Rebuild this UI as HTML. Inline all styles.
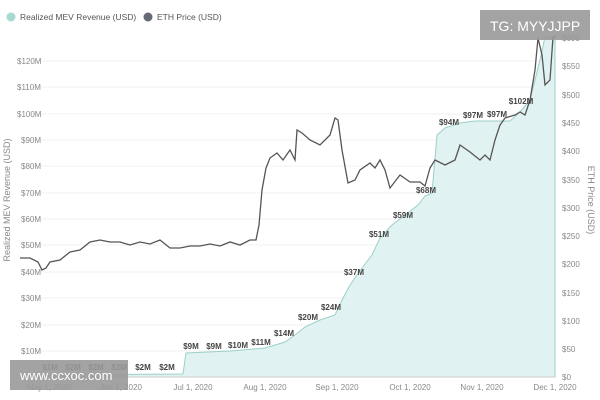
<!DOCTYPE html>
<html><head><meta charset="utf-8"><style>
body{margin:0;background:#fff;}
svg{display:block;font-family:"Liberation Sans",sans-serif;}
</style></head><body>
<svg width="600" height="400" viewBox="0 0 600 400">
<g stroke="#f2f2f2" stroke-width="1">
<line x1="30" x2="555" y1="61" y2="61"/><line x1="30" x2="555" y1="87" y2="87"/><line x1="30" x2="555" y1="114" y2="114"/><line x1="30" x2="555" y1="140" y2="140"/><line x1="30" x2="555" y1="166" y2="166"/><line x1="30" x2="555" y1="193" y2="193"/><line x1="30" x2="555" y1="219" y2="219"/><line x1="30" x2="555" y1="245" y2="245"/><line x1="30" x2="555" y1="272" y2="272"/><line x1="30" x2="555" y1="298" y2="298"/><line x1="30" x2="555" y1="325" y2="325"/><line x1="30" x2="555" y1="351" y2="351"/>
</g>
<path d="M30,377 L30,375 L183,374 L186,353 L230,351 L265,348 L285,342 L295,335 L305,327 L320,320 L335,315 L342,300 L350,285 L362,268 L372,255 L380,238 L392,225 L405,215 L418,205 L425,196 L432,193 L437,135 L445,128 L460,123 L475,121 L510,121 L520,112 L530,100 L540,60 L545,37 L555,37 L555,377 Z" fill="#e0f2f1" stroke="#9ccfc8" stroke-width="1"/>
<line x1="30" x2="555" y1="377" y2="377" stroke="#ccc"/>
<polyline fill="none" stroke="#555" stroke-width="1.3" points="20,258 30,258 38,262 42,270 46,268 50,262 60,260 70,252 80,250 90,242 100,240 110,242 120,242 130,245 140,242 150,244 160,240 170,248 180,248 190,246 200,246 210,244 220,246 230,242 240,245 250,240 256,240 259,225 262,190 266,168 270,158 277,153 283,160 290,150 295,160 297,130 302,133 310,140 320,145 330,135 335,118 338,120 342,150 348,183 355,180 360,170 370,163 375,168 380,160 385,170 390,188 400,175 410,182 420,182 425,186 430,168 435,160 445,165 455,160 460,145 470,152 480,160 485,155 490,160 495,140 500,125 505,118 515,115 520,112 525,115 530,100 535,70 538,38 542,55 545,85 550,80 553,37 556,36"/>
<g font-size="8" fill="#888" text-anchor="start">
<text x="17" y="64">$120M</text><text x="17" y="90">$110M</text><text x="17" y="117">$100M</text><text x="21" y="143">$90M</text><text x="21" y="169">$80M</text><text x="21" y="196">$70M</text><text x="21" y="222">$60M</text><text x="21" y="248">$50M</text><text x="21" y="275">$40M</text><text x="21" y="301">$30M</text><text x="21" y="328">$20M</text><text x="21" y="354">$10M</text>
</g>
<g font-size="8" fill="#888">
<text x="562" y="41">$600</text><text x="562" y="69">$550</text><text x="562" y="98">$500</text><text x="562" y="126">$450</text><text x="562" y="154">$400</text><text x="562" y="183">$350</text><text x="562" y="211">$300</text><text x="562" y="239">$250</text><text x="562" y="267">$200</text><text x="562" y="296">$150</text><text x="562" y="324">$100</text><text x="562" y="352">$50</text><text x="562" y="380">$0</text>
</g>
<g font-size="8" fill="#888" text-anchor="middle">
<text x="49" y="390">May 1, 2020</text><text x="121" y="390">Jun 1, 2020</text><text x="193" y="390">Jul 1, 2020</text><text x="265" y="390">Aug 1, 2020</text><text x="337" y="390">Sep 1, 2020</text><text x="410" y="390">Oct 1, 2020</text><text x="482" y="390">Nov 1, 2020</text><text x="555" y="390">Dec 1, 2020</text>
</g>
<text transform="translate(10,200) rotate(-90)" font-size="9" fill="#888" text-anchor="middle">Realized MEV Revenue (USD)</text>
<text transform="translate(588,200) rotate(90)" font-size="9" fill="#888" text-anchor="middle">ETH Price (USD)</text>
<g font-size="8" font-weight="bold" fill="#444" text-anchor="middle">
<text x="50" y="370">$1M</text><text x="73" y="370">$2M</text><text x="96" y="370">$2M</text><text x="119" y="370">$2M</text><text x="143" y="370">$2M</text><text x="167" y="370">$2M</text>
<text x="191" y="349">$9M</text><text x="214" y="349">$9M</text><text x="238" y="348">$10M</text><text x="261" y="345">$11M</text><text x="284" y="336">$14M</text><text x="308" y="320">$20M</text><text x="331" y="310">$24M</text><text x="354" y="275">$37M</text><text x="379" y="237">$51M</text><text x="403" y="218">$59M</text><text x="426" y="193">$68M</text><text x="449" y="125">$94M</text><text x="473" y="118">$97M</text><text x="497" y="117">$97M</text><text x="521" y="104">$102M</text>
</g>
<circle cx="11" cy="17" r="4.5" fill="#a6d9d0"/><text x="20" y="20" font-size="8.5" fill="#555">Realized MEV Revenue (USD)</text>
<circle cx="148" cy="17" r="4.5" fill="#666a77"/><text x="157" y="20" font-size="8.5" fill="#555">ETH Price (USD)</text>
<rect x="480" y="10" width="110" height="30" fill="#999" opacity="0.9"/>
<text x="490" y="31" font-size="14" fill="#fff">TG: MYYJJPP</text>
<rect x="10" y="360" width="118" height="30" fill="#999" opacity="0.9"/>
<text x="20" y="380" font-size="13" fill="#fff">www.ccxoc.com</text>
</svg>
</body></html>
